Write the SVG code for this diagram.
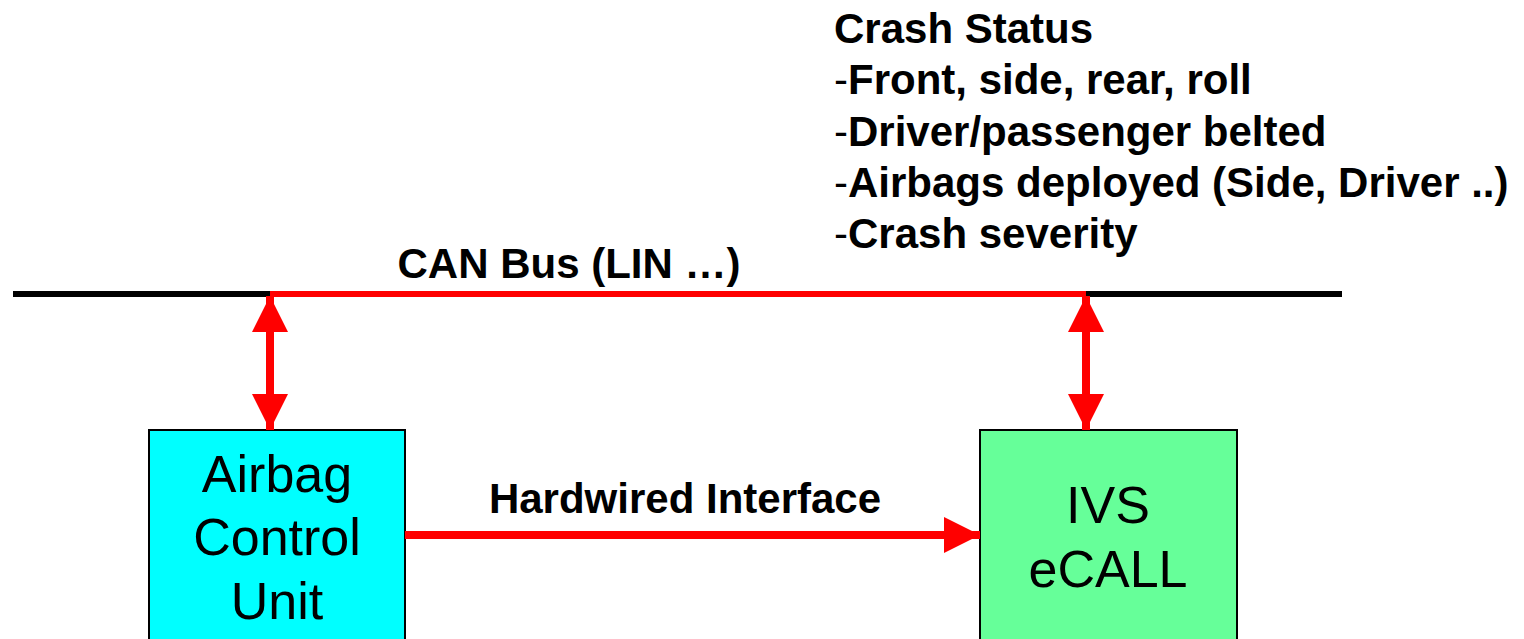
<svg xmlns="http://www.w3.org/2000/svg" width="1524" height="639" viewBox="0 0 1524 639">
<style>
.b{font-family:"Liberation Sans",Arial,sans-serif;font-weight:bold;font-size:42px;fill:#000}
.n{font-family:"Liberation Sans",Arial,sans-serif;font-size:52px;fill:#000}
.d{font-weight:normal}
.box{stroke:#000;stroke-width:2}
.red{stroke:#ff0000;fill:none}
</style>
<defs>
<marker id="ah" viewBox="0 0 36 36" refX="36" refY="18" markerWidth="36" markerHeight="36" markerUnits="userSpaceOnUse" orient="auto-start-reverse">
<path d="M0,0 L36,18 L0,36 Z" fill="#ff0000"/>
</marker>
</defs>
<rect width="1524" height="639" fill="#fff"/>
<g id="bus">
<line x1="13" y1="294" x2="270" y2="294" stroke="#000" stroke-width="6"/>
<line x1="1086" y1="294" x2="1342" y2="294" stroke="#000" stroke-width="6"/>
<line x1="270" y1="294" x2="1086" y2="294" stroke="#ff0000" stroke-width="6"/>
<text class="b" x="569" y="278" text-anchor="middle">CAN Bus (LIN …)</text>
</g>
<g id="airbag">
<rect class="box" x="149" y="430" width="256" height="220" fill="#00ffff"/>
<text class="n" x="277" y="492" text-anchor="middle">Airbag</text>
<text class="n" x="277" y="555" text-anchor="middle">Control</text>
<text class="n" x="277" y="619" text-anchor="middle">Unit</text>
</g>
<g id="ivs">
<rect class="box" x="980" y="430" width="257" height="220" fill="#66ff99"/>
<text class="n" x="1108" y="523" text-anchor="middle">IVS</text>
<text class="n" x="1108" y="587" text-anchor="middle">eCALL</text>
</g>
<g id="status">
<text class="b" x="834" y="43">Crash Status</text>
<text class="b" x="834" y="94"><tspan class="d">-</tspan>Front, side, rear, roll</text>
<text class="b" x="834" y="146"><tspan class="d">-</tspan>Driver/passenger belted</text>
<text class="b" x="834" y="197"><tspan class="d">-</tspan>Airbags deployed (Side, Driver ..)</text>
<text class="b" x="834" y="248"><tspan class="d">-</tspan>Crash severity</text>
</g>
<g id="connectors">
<line class="red" x1="270" y1="296" x2="270" y2="430" stroke-width="8" marker-start="url(#ah)" marker-end="url(#ah)"/>
<line class="red" x1="1086" y1="296" x2="1086" y2="430" stroke-width="8" marker-start="url(#ah)" marker-end="url(#ah)"/>
<line class="red" x1="405" y1="535" x2="980" y2="535" stroke-width="8" marker-end="url(#ah)"/>
<text class="b" x="685" y="513" text-anchor="middle">Hardwired Interface</text>
</g>
</svg>
